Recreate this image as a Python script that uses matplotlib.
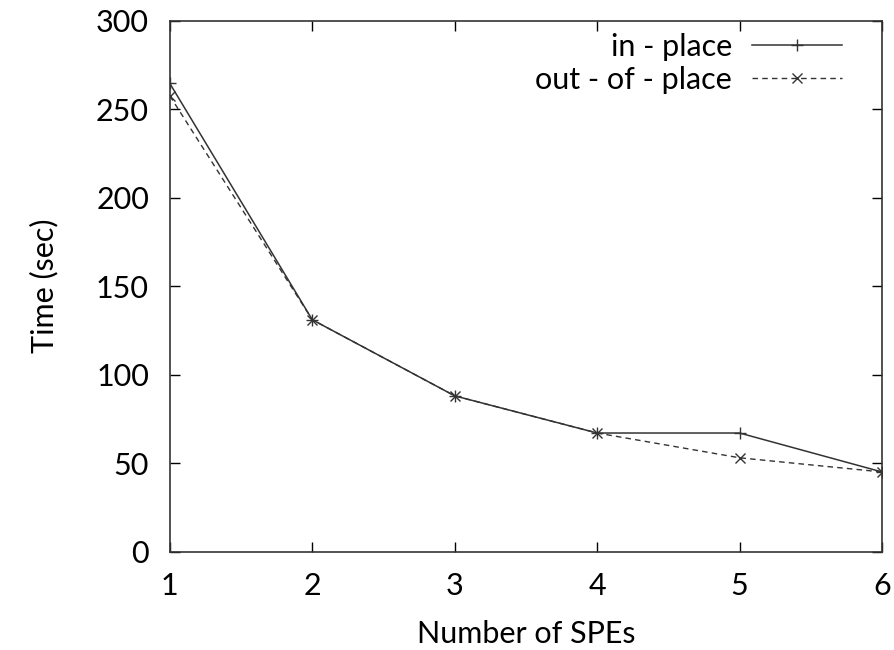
import matplotlib
matplotlib.use("Agg")
import matplotlib.pyplot as plt

plt.rcParams['font.family'] = ['Lato', 'DejaVu Sans']

spes = [1, 2, 3, 4, 5, 6]
in_place = [264.5, 131, 88, 67, 67, 45]
out_of_place = [257.5, 131, 88, 67, 53, 45]
labels = ["in - place", "out - of - place"]

FS = 22
fig = plt.figure(figsize=(8.94, 6.5), dpi=100)
ax = fig.add_axes([0.190, 0.1514, 0.7966, 0.8168])

col = '#333333'
ax.plot(spes, in_place, color=col, lw=1.1, marker='+', ms=9, mew=1.0, label=labels[0])
ax.plot(spes, out_of_place, color=col, lw=1.0, ls=(0, (4, 3)), marker='x', ms=7, mew=1.0, label=labels[1])

ax.set_xlim(1, 6)
ax.set_ylim(0, 300)
ax.set_xticks(spes)
ax.set_yticks([0, 50, 100, 150, 200, 250, 300])
ax.tick_params(direction='in', top=True, right=True, length=7, width=1, labelsize=FS)
ax.tick_params(axis='x', pad=15)
ax.tick_params(axis='y', pad=15)
for s in ax.spines.values():
    s.set_linewidth(1.2)
    s.set_color('#333333')
ax.set_xlabel("Number of SPEs", fontsize=FS)
ax.set_ylabel("Time (sec)", fontsize=FS)
ax.xaxis.set_label_coords(0.5, -0.128)
ax.yaxis.set_label_coords(-0.176, 0.5)
ax.xaxis.label.set_va('top')
ax.yaxis.label.set_va('center')

ax.legend(loc='upper right', bbox_to_anchor=(0.944, 0.977), frameon=False, markerfirst=False,
          fontsize=FS, handlelength=2.95, labelspacing=0.17, borderaxespad=0.0,
          borderpad=0.0, handletextpad=0.65)

fig.savefig("out.png", dpi=100)
